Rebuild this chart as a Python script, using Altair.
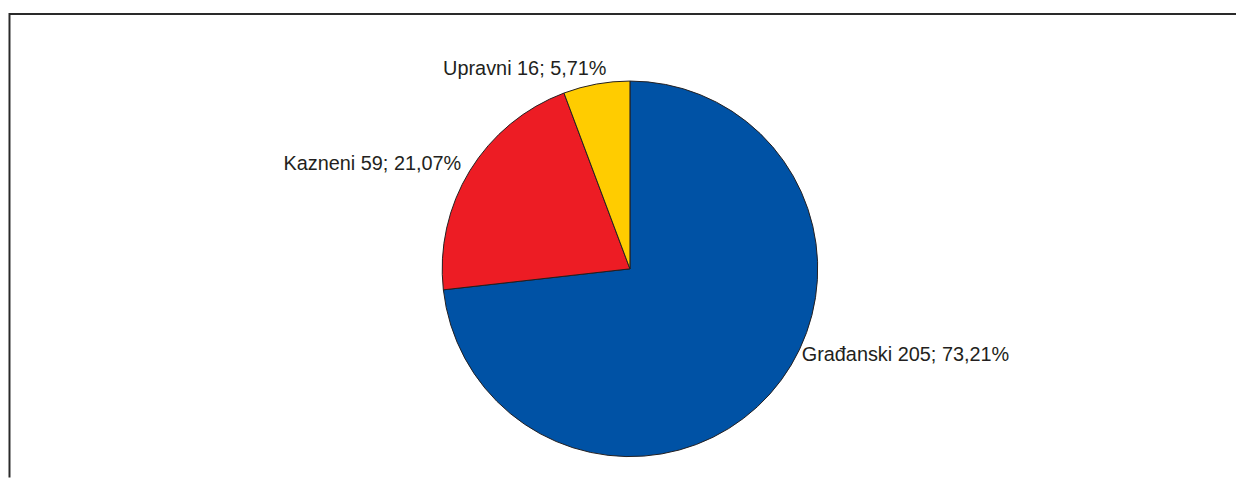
import altair as alt
import pandas as pd

categories = ["Građanski", "Kazneni", "Upravni"]
counts = [205, 59, 16]
percents = ["73,21%", "21,07%", "5,71%"]
colors = ["#0052A5", "#ED1C24", "#FFCC00"]

df = pd.DataFrame({
    "cat": categories,
    "count": counts,
    "pct": percents,
    "order": list(range(len(categories))),
})
df["label"] = df["cat"] + " " + df["count"].astype(str) + "; " + df["pct"]

W, H = 1216, 420
PL, PT, PR = 18, 51, 2

pie = alt.Chart(df).mark_arc(outerRadius=189, stroke="#231F20", strokeWidth=1).encode(
    theta=alt.Theta("count:Q", stack=True),
    order=alt.Order("order:Q"),
    color=alt.Color("cat:N", scale=alt.Scale(domain=categories, range=colors), legend=None),
)

label_style = {
    "Građanski": dict(align="left", dx=20, dy=-50),
    "Kazneni": dict(align="right", dx=5, dy=2),
    "Upravni": dict(align="right", dx=13, dy=1),
}

label_base = alt.Chart(df).transform_window(
    cum="sum(count)", sort=[alt.SortField("order")]
).transform_calculate(
    mid="datum.cum - datum.count / 2"
)

texts = []
for c in categories:
    s = label_style[c]
    texts.append(
        label_base.transform_filter(alt.datum.cat == c).mark_text(
            radius=205, font="Liberation Sans", fontSize=20, color="#231F20",
            baseline="middle", align=s["align"], dx=s["dx"], dy=s["dy"],
        ).encode(
            theta=alt.Theta("mid:Q", stack=False),
            text="label:N",
        )
    )

frame_df = pd.DataFrame({"k": [0]})
top_rule = alt.Chart(frame_df).mark_rule(color="#2a2a2a", strokeWidth=2).encode(
    x=alt.value(-16.5), x2=alt.value(W + PR), y=alt.value(-46.5)
)
left_rule = alt.Chart(frame_df).mark_rule(color="#2a2a2a", strokeWidth=2).encode(
    x=alt.value(-16.5), y=alt.value(-47.5), y2=alt.value(H)
)

chart = alt.layer(pie, *texts, top_rule, left_rule).properties(
    width=W, height=H,
    autosize=alt.AutoSizeParams(type="none"),
    padding={"left": PL, "top": PT, "right": PR, "bottom": 0},
).configure_view(stroke=None)

chart.save("out.html", embed_options={"renderer": "svg", "actions": False})
